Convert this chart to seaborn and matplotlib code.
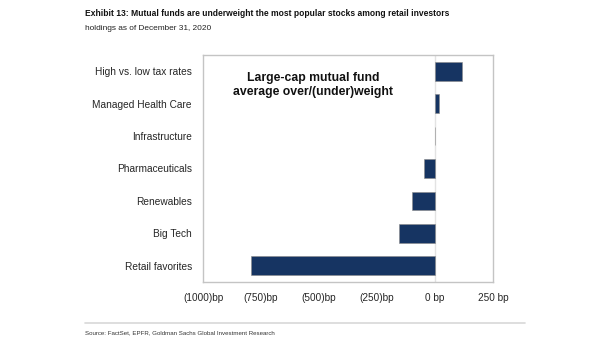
import matplotlib
matplotlib.use("Agg")
import matplotlib.pyplot as plt
import seaborn as sns
import pandas as pd
from matplotlib import font_manager

# Sector/theme baskets and large-cap mutual fund over/(under)weight in bp
categories = ["High vs. low tax rates", "Managed Health Care", "Infrastructure",
              "Pharmaceuticals", "Renewables", "Big Tech", "Retail favorites"]
weights_bp = [115, 18, -2, -48, -101, -157, -795]
tick_values = [-1000, -750, -500, -250, 0, 250]
tick_labels = ["(1000)bp", "(750)bp", "(500)bp", "(250)bp", "0 bp", "250 bp"]

df = pd.DataFrame({"category": categories, "weight": weights_bp})

sns.set_theme(style="white")
names = {f.name for f in font_manager.fontManager.ttflist}
narrow = "Liberation Sans Narrow" if "Liberation Sans Narrow" in names else "Liberation Sans"
plt.rcParams["font.family"] = ["Liberation Sans", "DejaVu Sans"]

fig = plt.figure(figsize=(6.05, 3.41), dpi=100)
ax = fig.add_axes([203 / 605, 1 - 282 / 341, 290 / 605, 227 / 341])

sns.barplot(data=df, x="weight", y="category", orient="h", order=categories,
            color="#163462", saturation=1, width=0.58, edgecolor="#8a8a8a",
            linewidth=0.4, ax=ax)

ax.axvline(0, color="#e3e3e3", lw=1.0, zorder=0)
ax.set_xlim(-985, 245)
ax.set_ylim(len(categories) - 0.5, -0.5)
ax.set_xticks(tick_values)
ax.set_xticklabels(tick_labels, fontsize=7.2)
ax.tick_params(axis="y", labelsize=7.3, pad=8, length=0)
ax.tick_params(axis="x", pad=8, length=0)
ax.set_xlabel("")
ax.set_ylabel("")
for s in ax.spines.values():
    s.set_color("#c4c4c4")
    s.set_linewidth(1.0)

fig.text(313 / 605, 1 - 85 / 341, "Large-cap mutual fund\naverage over/(under)weight",
         fontsize=8.8, fontweight="bold", ha="center", va="center",
         linespacing=1.2, color="#111111")

fig.text(85 / 605, 1 - 13 / 341,
         "Exhibit 13: Mutual funds are underweight the most popular stocks among retail investors",
         family=[narrow, "DejaVu Sans"], fontsize=6.15, fontweight="bold",
         ha="left", va="center", color="#111111")
fig.text(85 / 605, 1 - 28 / 341, "holdings as of December 31, 2020",
         family=[narrow, "DejaVu Sans"], fontsize=5.95, ha="left", va="center",
         color="#222222")

fig.add_artist(plt.Line2D([85 / 605, 525 / 605], [1 - 323 / 341, 1 - 323 / 341],
                          color="#d8d8d8", lw=1.2))
fig.text(85 / 605, 1 - 333 / 341,
         "Source: FactSet, EPFR, Goldman Sachs Global Investment Research",
         family=[narrow, "DejaVu Sans"], fontsize=4.4, ha="left", va="center",
         color="#333333")

fig.savefig("out.png", dpi=100)
